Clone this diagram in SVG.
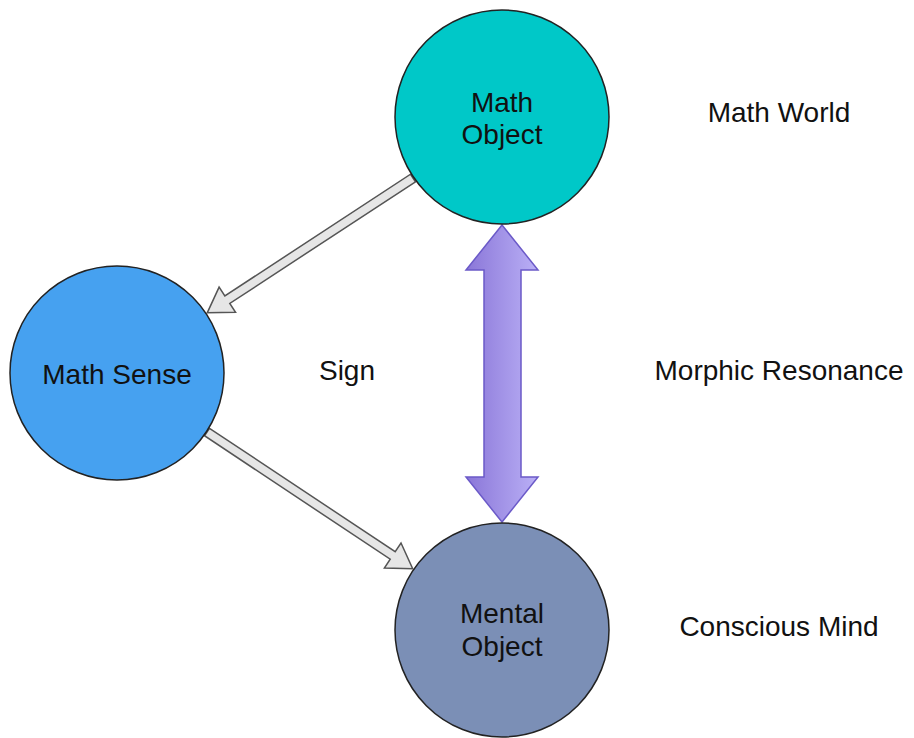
<svg xmlns="http://www.w3.org/2000/svg" width="914" height="738" viewBox="0 0 914 738">
  <style>
    .node { stroke: #222; stroke-width: 1.5; }
    .label { font-family: "Liberation Sans", Arial, sans-serif; font-size: 28px; fill: #111; text-anchor: middle; }
    .flow { fill: #e6e6e6; stroke: #555; stroke-width: 1.5; stroke-linejoin: miter; }
    .resonance { fill: url(#purpleGrad); stroke: #6b5ac8; stroke-width: 1.5; }
  </style>
  <defs>
    <linearGradient id="purpleGrad" x1="0" y1="0" x2="1" y2="0">
      <stop offset="0" stop-color="#8a76d8"/>
      <stop offset="1" stop-color="#bab0f6"/>
    </linearGradient>
  </defs>
  <rect width="914" height="738" fill="#ffffff"/>

  <g id="connectors">
    <!-- Math Object -> Math Sense -->
    <polygon class="flow" transform="translate(413,178) rotate(146.76)"
             points="0,-4.5 222,-4.5 222,-15 246,0 222,15 222,4.5 0,4.5"/>
    <!-- Math Sense -> Mental Object -->
    <polygon class="flow" transform="translate(207,432) rotate(33.62)"
             points="0,-4.5 223,-4.5 223,-15 247,0 223,15 223,4.5 0,4.5"/>
    <!-- Morphic resonance double arrow -->
    <polygon class="resonance"
             points="502,225 538,270 521,270 521,477 538,477 502,522 466,477 484,477 484,270 466,270"/>
  </g>

  <g id="math-object">
    <circle class="node" cx="502" cy="117" r="107" fill="#00c8c8"/>
    <text class="label" x="502" y="112">Math</text>
    <text class="label" x="502" y="144">Object</text>
  </g>

  <g id="math-sense">
    <circle class="node" cx="117" cy="373" r="107" fill="#46a1f0"/>
    <text class="label" x="117" y="384">Math Sense</text>
  </g>

  <g id="mental-object">
    <circle class="node" cx="502" cy="630" r="107" fill="#7b8fb6"/>
    <text class="label" x="502" y="623">Mental</text>
    <text class="label" x="502" y="656">Object</text>
  </g>

  <g id="sign">
    <text class="label" x="347" y="380">Sign</text>
  </g>
  <g id="math-world">
    <text class="label" x="779" y="122">Math World</text>
  </g>
  <g id="morphic-resonance">
    <text class="label" x="779" y="380">Morphic Resonance</text>
  </g>
  <g id="conscious-mind">
    <text class="label" x="779" y="636">Conscious Mind</text>
  </g>
</svg>
